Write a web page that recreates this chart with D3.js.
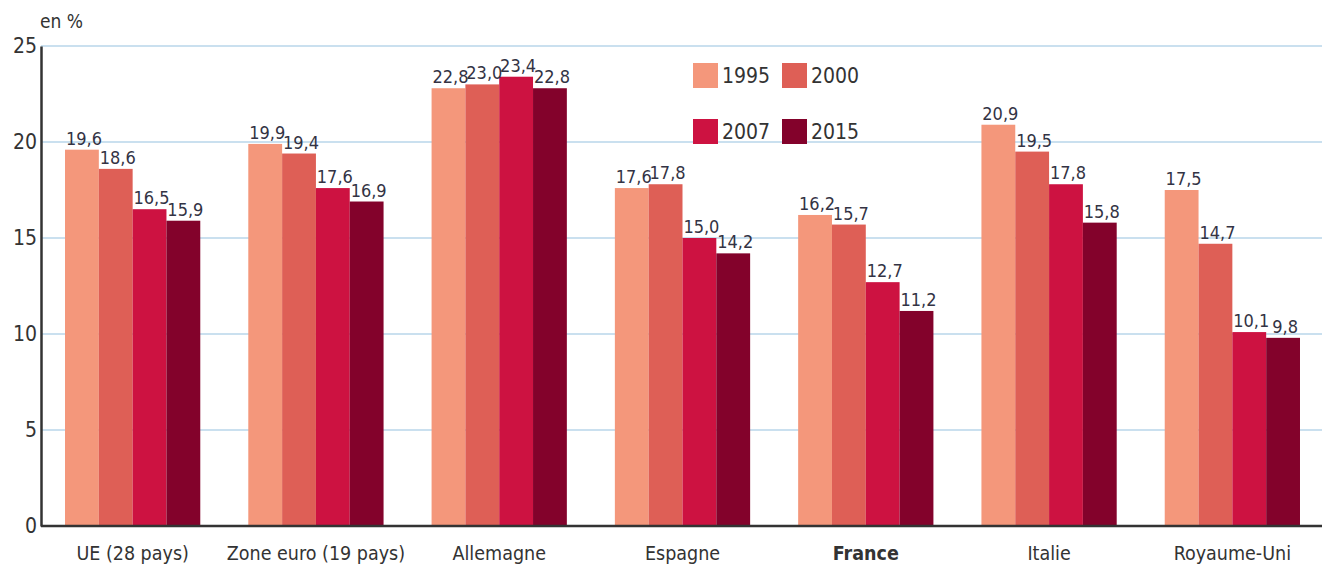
<!DOCTYPE html>
<html><head><meta charset="utf-8">
<script src="https://cdn.jsdelivr.net/npm/d3@7"></script>
<style>
body{margin:0;background:#fff;}
text{font-family:"DejaVu Sans Condensed","Liberation Sans",sans-serif;}
</style></head>
<body><svg id="c" width="1322" height="570"></svg>
<script>
const categories = ["UE (28 pays)","Zone euro (19 pays)","Allemagne","Espagne","France","Italie","Royaume-Uni"];
const years = ["1995","2000","2007","2015"];
const v1995 = [19.6,19.9,22.8,17.6,16.2,20.9,17.5];
const v2000 = [18.6,19.4,23.0,17.8,15.7,19.5,14.7];
const v2007 = [16.5,17.6,23.4,15.0,12.7,17.8,10.1];
const v2015 = [15.9,16.9,22.8,14.2,11.2,15.8,9.8];
const yTicks = [0,5,10,15,20,25];
const colors = ["#f4977b","#de5f56","#cd1241","#83022b"];
const series = [v1995,v2000,v2007,v2015];

(function(){
const svg = d3.select("#c");
const mLeft = 41, mRight = 1324, mTop = 46, mBottom = 526;
const x = d3.scaleBand().domain(categories).range([mLeft,mRight]).paddingInner(0.262).paddingOuter(0.131);
const xi = d3.scaleBand().domain(years).range([0,x.bandwidth()]);
const y = d3.scaleLinear().domain([0,25]).range([mBottom,mTop]);
const color = d3.scaleOrdinal().domain(years).range(colors);
const fmt = v => d3.format(".1f")(v).replace(".",",");

// gridlines
svg.append("g").selectAll("line").data(yTicks.filter(d=>d>0)).join("line")
  .attr("x1",mLeft).attr("x2",1322).attr("y1",d=>y(d)).attr("y2",d=>y(d))
  .attr("stroke","#b9d6ea").attr("stroke-width",1.5);

// bars
const data = [];
categories.forEach((c,i)=>years.forEach((yr,j)=>data.push({c,yr,v:series[j][i]})));
svg.append("g").selectAll("rect").data(data).join("rect")
  .attr("x",d=>x(d.c)+xi(d.yr)).attr("width",xi.bandwidth())
  .attr("y",d=>y(d.v)).attr("height",d=>y(0)-y(d.v))
  .attr("fill",d=>color(d.yr));

// value labels
svg.append("g").selectAll("text").data(data).join("text")
  .attr("x",d=>x(d.c)+xi(d.yr)+xi.bandwidth()/2+2).attr("y",d=>y(d.v)-5)
  .attr("text-anchor","middle").attr("font-size",18).attr("fill","#333344")
  .text(d=>fmt(d.v));

// y axis
const ya = svg.append("g").attr("transform",`translate(${mLeft},0)`)
  .call(d3.axisLeft(y).tickValues(yTicks).tickSize(0).tickPadding(4));
ya.select(".domain").attr("stroke","#333").attr("stroke-width",2.5);
ya.selectAll("text").attr("font-size",21).attr("fill","#333");

// x axis
const xa = svg.append("g").attr("transform",`translate(0,${mBottom})`)
  .call(d3.axisBottom(x).tickSize(0).tickPadding(20));
xa.select(".domain").attr("stroke","#333").attr("stroke-width",2.5).attr("d",`M${mLeft},0H1322`);
xa.selectAll("text").attr("font-size",19.5).attr("fill","#333")
  .attr("font-weight",d=>d==="France"?"bold":"normal");

// unit
svg.append("text").attr("x",40).attr("y",28).attr("font-size",19).attr("fill","#333").text("en %");

// legend
const lpos = [[693,63],[782,63],[693,119],[782,119]];
years.forEach((yr,i)=>{
  const g = svg.append("g").attr("transform",`translate(${lpos[i][0]},${lpos[i][1]})`);
  g.append("rect").attr("width",25).attr("height",25).attr("fill",color(yr));
  g.append("text").attr("x",29).attr("y",20).attr("font-size",21).attr("fill","#333").text(yr);
});
})();
</script></body></html>
